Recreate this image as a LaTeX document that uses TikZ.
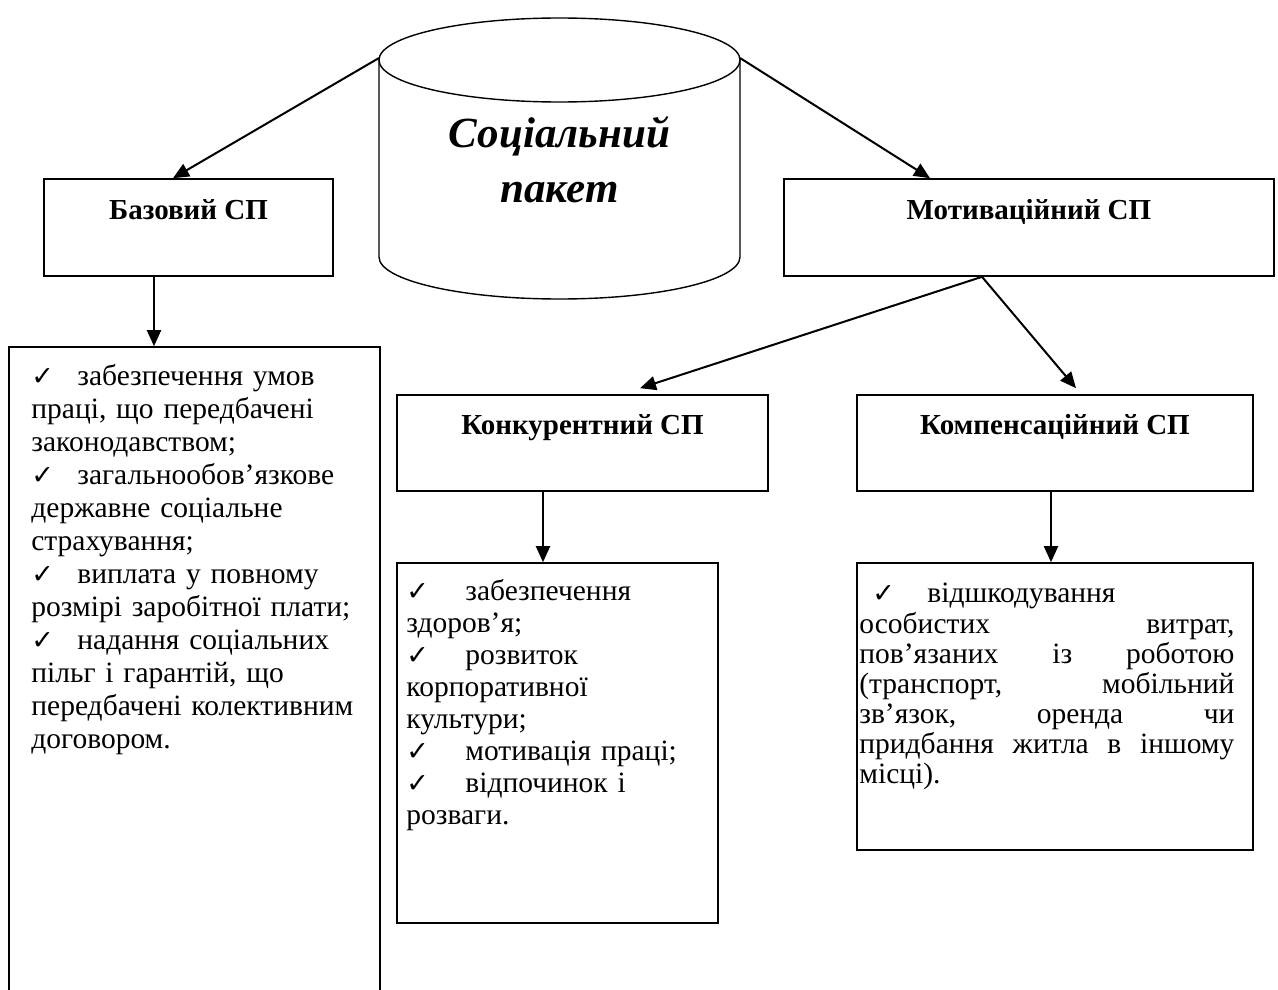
\documentclass[tikz,border=0pt]{standalone}
\usepackage{fontspec}
\setmainfont{Liberation Serif}
\newfontfamily\symfont{DejaVu Sans}
\usetikzlibrary{arrows.meta}
\newcommand{\spchk}[1]{\makebox[#1][l]{\symfont\fontsize{27}{27}\selectfont ✓}}
\tikzset{
  spbox/.style={shape=rectangle,draw,line width=1.6pt,inner sep=0pt},
  sphead/.style={spbox,font=\fontsize{29}{33}\selectfont\bfseries,text height=20pt,text depth=37pt},
  splist/.style={anchor=north west,inner sep=0pt,align=left,font=\fontsize{29.5}{33}\selectfont},
  sparrow/.style={line width=2pt,-{Triangle[length=16pt,width=14pt]}}
}

\begin{document}
\begin{tikzpicture}[x=1pt,y=-1pt]
    \useasboundingbox (0,0) rectangle (1278,990);
    % cylinder
    \draw[line width=1.4pt] (379,60) -- (379,257) arc[start angle=180,end angle=0,x radius=180.5,y radius=42] -- (740,60);
    \draw[line width=1.4pt] (559.5,60) ellipse [x radius=180.5,y radius=42];
    \node[font=\fontsize{43}{55}\selectfont\bfseries\itshape,align=center] (paket) at (559.5,160) {Соціальний\\пакет};
    \coordinate (paketL) at (379,58);
    \coordinate (paketR) at (740,58);
    % boxes
    \node[sphead,minimum width=289pt,minimum height=97pt] (bazovyj) at (188.5,227.5) {Базовий СП};
    \node[sphead,minimum width=490pt,minimum height=97pt] (motyv)   at (1029,227.5)  {Мотиваційний СП};
    \node[sphead,minimum width=371pt,minimum height=96pt] (konk)    at (582.5,443)   {Конкурентний СП};
    \node[sphead,minimum width=396pt,minimum height=96pt] (komp)    at (1055,443)    {Компенсаційний СП};
    \node[spbox,minimum width=371pt,minimum height=663pt] (bazlist)  at (194.5,678.5) {};
    \node[spbox,minimum width=321pt,minimum height=360pt] (konklist) at (557.5,743)   {};
    \node[spbox,minimum width=396pt,minimum height=287pt] (komplist) at (1055,706.5)  {};
    % lists
    \node[splist,text width=345pt] (baztext) at ([xshift=23pt,yshift=-16pt]bazlist.north west)
      {\strut\spchk{46pt}забезпечення умов\\праці, що передбачені\\законодавством;\\
       \spchk{46pt}загальнообов’язкове\\державне соціальне\\страхування;\\
       \spchk{46pt}виплата у повному\\розмірі заробітної плати;\\
       \spchk{46pt}надання соціальних\\пільг і гарантій, що\\передбачені колективним\\договором.};
    \node[splist,text width=305pt,font=\fontsize{29.5}{32}\selectfont] (konktext) at ([xshift=10pt,yshift=-16pt]konklist.north west)
      {\strut\spchk{59pt}забезпечення\\здоров'я;\\
       \spchk{59pt}розвиток\\корпоративної\\культури;\\
       \spchk{59pt}мотивація праці;\\
       \spchk{59pt}відпочинок і\\розваги.};
    \node[splist,text width=375pt,font=\fontsize{29.5}{30}\selectfont] (komptext) at ([xshift=3pt,yshift=-19pt]komplist.north west)
      {\strut\hspace*{13pt}\spchk{55pt}відшкодування\\
       особистих\hfill витрат,\\
       пов’язаних\hfill із\hfill роботою\\
       (транспорт,\hfill мобільний\\
       зв'язок,\hfill оренда\hfill чи\\
       придбання\hfill житла\hfill в\hfill іншому\\
       місці).};
    % arrows
    \draw[sparrow] (paketL) -- ([xshift=-15.5pt]bazovyj.north);
    \draw[sparrow] (paketR) -- ([xshift=-99pt]motyv.north);
    \draw[sparrow] ([xshift=-47pt]motyv.south) -- ([xshift=57.5pt,yshift=6pt]konk.north);
    \draw[sparrow] ([xshift=-47pt]motyv.south) -- ([xshift=21pt,yshift=6pt]komp.north);
    \draw[sparrow] ([xshift=-34.5pt]bazovyj.south) -- ([xshift=-34.5pt]bazovyj.south |- bazlist.north);
    \draw[sparrow] ([xshift=-39.5pt]konk.south) -- ([xshift=-39.5pt]konk.south |- konklist.north);
    \draw[sparrow] ([xshift=-4pt]komp.south) -- ([xshift=-4pt]komp.south |- komplist.north);
\end{tikzpicture}
\end{document}
